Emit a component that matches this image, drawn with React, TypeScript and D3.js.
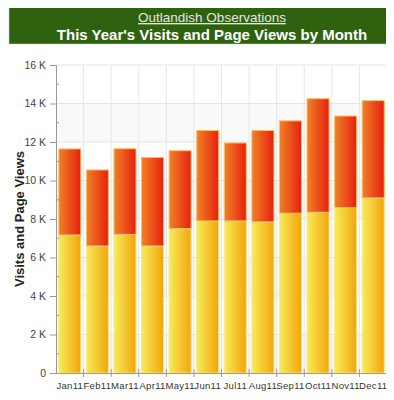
import React, { useEffect, useRef } from 'react';
import * as d3 from 'd3';

const months = ['Jan11', 'Feb11', 'Mar11', 'Apr11', 'May11', 'Jun11', 'Jul11', 'Aug11', 'Sep11', 'Oct11', 'Nov11', 'Dec11'];
// visits (yellow, bottom) and page views stacked on top (red)
const visits = [7170, 6600, 7200, 6600, 7500, 7900, 7900, 7850, 8300, 8350, 8600, 9100];
const pageViews = [4470, 3950, 4450, 4600, 4050, 4700, 4050, 4750, 4800, 5900, 4750, 5050];
const yTicks = [0, 2000, 4000, 6000, 8000, 10000, 12000, 14000, 16000];

const App: React.FC = () => {
  const svgRef = useRef<SVGSVGElement>(null);

  useEffect(() => {
    if (!svgRef.current) return;
    const svg = d3.select(svgRef.current);
    svg.selectAll('*').remove();

    const margin = { top: 65, right: 7, bottom: 27, left: 56 };
    const W = 394, H = 400;
    const width = W - margin.left - margin.right;
    const height = H - margin.top - margin.bottom;
    const font = 'Arial, "Liberation Sans", sans-serif';

    // gradients
    const defs = svg.append('defs');
    const yg = defs.append('linearGradient').attr('id', 'gYellow').attr('x1', '0%').attr('x2', '100%').attr('y1', '0%').attr('y2', '0%');
    yg.append('stop').attr('offset', '0%').attr('stop-color', '#f6ec5a');
    yg.append('stop').attr('offset', '100%').attr('stop-color', '#f4a40a');
    const rg = defs.append('linearGradient').attr('id', 'gRed').attr('x1', '0%').attr('x2', '100%').attr('y1', '0%').attr('y2', '0%');
    rg.append('stop').attr('offset', '0%').attr('stop-color', '#ef8226');
    rg.append('stop').attr('offset', '100%').attr('stop-color', '#e8200e');

    // header
    svg.append('rect').attr('x', 9).attr('y', 7).attr('width', 378).attr('height', 37)
      .attr('fill', '#2f620f').attr('stroke', '#c8d8c0').attr('stroke-width', 0.5);
    svg.append('text').attr('x', 212).attr('y', 22).attr('text-anchor', 'middle')
      .style('font-family', font).style('font-size', '13.5px')
      .style('fill', '#e6e6e6').style('text-decoration', 'underline')
      .text('Outlandish Observations');
    svg.append('text').attr('x', 212).attr('y', 40).attr('text-anchor', 'middle')
      .style('font-family', font).style('font-size', '15px')
      .style('font-weight', 'bold').style('fill', '#ffffff')
      .text("This Year's Visits and Page Views by Month");

    const g = svg.append('g').attr('transform', `translate(${margin.left},${margin.top})`);

    const x = d3.scaleBand().domain(months).range([0, width]).paddingInner(0.2).paddingOuter(0.1);
    const y = d3.scaleLinear().domain([0, 16000]).range([height, 0]);

    // alternating bands
    for (let i = 0; i < yTicks.length - 1; i++) {
      if (i % 2 === 0) {
        g.append('rect').attr('x', 0).attr('width', width)
          .attr('y', y(yTicks[i + 1])).attr('height', y(yTicks[i]) - y(yTicks[i + 1]))
          .attr('fill', '#f9f9f9');
      }
    }
    // horizontal grid
    g.selectAll('.hgrid').data(yTicks.slice(1)).enter().append('line')
      .attr('x1', 0).attr('x2', width).attr('y1', d => y(d)).attr('y2', d => y(d))
      .attr('stroke', '#e4e4e4').attr('stroke-width', 1);
    // vertical grid at category boundaries
    const bounds = d3.range(1, months.length + 1).map(i => i * width / months.length);
    g.selectAll('.vgrid').data(bounds).enter().append('line')
      .attr('x1', d => d).attr('x2', d => d).attr('y1', 0).attr('y2', height)
      .attr('stroke', '#e6e6e6').attr('stroke-width', 1);

    const bw = x.bandwidth();
    // visits
    g.selectAll('.v').data(months).enter().append('rect')
      .attr('x', d => x(d)!).attr('width', bw)
      .attr('y', (d, i) => y(visits[i])).attr('height', (d, i) => y(0) - y(visits[i]))
      .attr('fill', 'url(#gYellow)').attr('stroke', '#fbe98a').attr('stroke-width', 1);
    // page views
    g.selectAll('.p').data(months).enter().append('rect')
      .attr('x', d => x(d)!).attr('width', bw)
      .attr('y', (d, i) => y(visits[i] + pageViews[i])).attr('height', (d, i) => y(visits[i]) - y(visits[i] + pageViews[i]))
      .attr('fill', 'url(#gRed)').attr('stroke', '#f9c070').attr('stroke-width', 1);

    // y axis
    const yAxis = g.append('g').call(
      d3.axisLeft(y).tickValues(yTicks).tickSize(6).tickPadding(4)
        .tickFormat(d => (+d === 0 ? '0' : `${+d / 1000} K`))
    );
    yAxis.select('.domain').attr('stroke', '#999');
    yAxis.selectAll('.tick line').attr('stroke', '#999');
    yAxis.selectAll('text').style('font-family', font).style('font-size', '10.5px').style('fill', '#444');
    // minor ticks
    g.selectAll('.minor').data(d3.range(1000, 16000, 2000)).enter().append('line')
      .attr('x1', 0).attr('x2', 3).attr('y1', d => y(d)).attr('y2', d => y(d))
      .attr('stroke', '#999');

    // x axis
    const xAxis = g.append('g').attr('transform', `translate(0,${height})`)
      .call(d3.axisBottom(x).tickSize(0).tickPadding(9));
    xAxis.select('.domain').attr('stroke', '#999');
    xAxis.selectAll('text').style('font-family', font).style('font-size', '9.5px')
      .style('letter-spacing', '0.3px').style('fill', '#333');
    g.selectAll('.xtick').data(bounds).enter().append('line')
      .attr('x1', d => d).attr('x2', d => d).attr('y1', height - 4).attr('y2', height + 4)
      .attr('stroke', '#999');

    // axis title
    svg.append('text')
      .attr('transform', `translate(24,${margin.top + height / 2}) rotate(-90)`)
      .attr('text-anchor', 'middle')
      .style('font-family', font).style('font-size', '13px')
      .style('font-weight', 'bold').style('fill', '#222')
      .text('Visits and Page Views');
  }, []);

  return (
    <div style={{ margin: -8 }}>
      <svg ref={svgRef} width={394} height={400} style={{ display: 'block', background: '#fff' }} />
    </div>
  );
};

export default App;
